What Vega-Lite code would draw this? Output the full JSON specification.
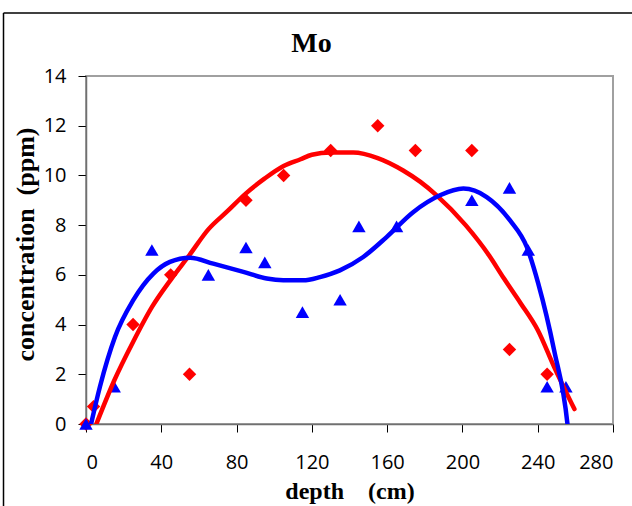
{
  "$schema": "https://vega.github.io/schema/vega-lite/v6.json",
  "autosize": {"type": "none"},
  "width": 527,
  "height": 348,
  "padding": {"left": 86, "top": 76, "right": 19, "bottom": 82},
  "background": "white",
  "title": {
    "text": "Mo",
    "font": "Liberation Serif",
    "fontSize": 28,
    "fontWeight": "bold",
    "color": "black",
    "anchor": "middle",
    "frame": "group",
    "baseline": "alphabetic",
    "offset": 0,
    "dy": 68,
    "dx": -38
  },
  "config": {
    "view": {"stroke": "#a0a0a0", "strokeWidth": 2},
    "axis": {
      "grid": false,
      "labelFont": "Open Sans",
      "labelFontSize": 20,
      "labelColor": "black",
      "tickColor": "black",
      "tickSize": 8,
      "tickWidth": 1,
      "domainColor": "#707070",
      "domainWidth": 1.5,
      "titleFont": "Liberation Serif",
      "titleFontWeight": "bold",
      "titleColor": "black"
    }
  },
  "datasets": {
    "frame": [
      {"x": -43.83, "x2": -43.83, "y": 16.53, "y2": -6},
      {"x": -43.83, "x2": 320, "y": 16.53, "y2": 16.53}
    ],
    "points": [
      {"series": "A", "depth": 0, "conc": 0},
      {"series": "A", "depth": 4, "conc": 0.7},
      {"series": "A", "depth": 25, "conc": 4},
      {"series": "A", "depth": 45, "conc": 6},
      {"series": "A", "depth": 55, "conc": 2},
      {"series": "A", "depth": 85, "conc": 9},
      {"series": "A", "depth": 105, "conc": 10},
      {"series": "A", "depth": 130, "conc": 11},
      {"series": "A", "depth": 155, "conc": 12},
      {"series": "A", "depth": 175, "conc": 11},
      {"series": "A", "depth": 205, "conc": 11},
      {"series": "A", "depth": 225, "conc": 3},
      {"series": "A", "depth": 245, "conc": 2},
      {"series": "B", "depth": 0, "conc": 0},
      {"series": "B", "depth": 15, "conc": 1.5},
      {"series": "B", "depth": 35, "conc": 7},
      {"series": "B", "depth": 65, "conc": 6},
      {"series": "B", "depth": 85, "conc": 7.1},
      {"series": "B", "depth": 95, "conc": 6.5},
      {"series": "B", "depth": 115, "conc": 4.5},
      {"series": "B", "depth": 135, "conc": 5},
      {"series": "B", "depth": 145, "conc": 7.95},
      {"series": "B", "depth": 165, "conc": 7.95},
      {"series": "B", "depth": 205, "conc": 9},
      {"series": "B", "depth": 225, "conc": 9.5},
      {"series": "B", "depth": 235, "conc": 7},
      {"series": "B", "depth": 245, "conc": 1.5},
      {"series": "B", "depth": 255, "conc": 1.5}
    ],
    "curves": [
      {"series": "A", "depth": 5.5, "conc": 0},
      {"series": "A", "depth": 15, "conc": 1.75},
      {"series": "A", "depth": 25, "conc": 3.3},
      {"series": "A", "depth": 35, "conc": 4.7},
      {"series": "A", "depth": 45, "conc": 5.8},
      {"series": "A", "depth": 55, "conc": 6.8},
      {"series": "A", "depth": 65, "conc": 7.83},
      {"series": "A", "depth": 75, "conc": 8.55},
      {"series": "A", "depth": 85, "conc": 9.28},
      {"series": "A", "depth": 95, "conc": 9.88},
      {"series": "A", "depth": 105, "conc": 10.38},
      {"series": "A", "depth": 114, "conc": 10.65},
      {"series": "A", "depth": 120, "conc": 10.83},
      {"series": "A", "depth": 130, "conc": 10.92},
      {"series": "A", "depth": 142, "conc": 10.92},
      {"series": "A", "depth": 155, "conc": 10.7},
      {"series": "A", "depth": 168.5, "conc": 10.2},
      {"series": "A", "depth": 177.5, "conc": 9.75},
      {"series": "A", "depth": 186.3, "conc": 9.2},
      {"series": "A", "depth": 201.7, "conc": 8.0},
      {"series": "A", "depth": 214, "conc": 6.8},
      {"series": "A", "depth": 222, "conc": 5.86},
      {"series": "A", "depth": 231, "conc": 4.85},
      {"series": "A", "depth": 240, "conc": 3.78},
      {"series": "A", "depth": 248.7, "conc": 2.3},
      {"series": "A", "depth": 259.5, "conc": 0.6},
      {"series": "B", "depth": 1.8, "conc": -0.3},
      {"series": "B", "depth": 7.4, "conc": 1.5},
      {"series": "B", "depth": 15.4, "conc": 3.5},
      {"series": "B", "depth": 25.1, "conc": 4.98},
      {"series": "B", "depth": 35.8, "conc": 6.05},
      {"series": "B", "depth": 44.6, "conc": 6.52},
      {"series": "B", "depth": 55.3, "conc": 6.69},
      {"series": "B", "depth": 67.6, "conc": 6.45},
      {"series": "B", "depth": 83.6, "conc": 6.12},
      {"series": "B", "depth": 96, "conc": 5.85},
      {"series": "B", "depth": 104.8, "conc": 5.78},
      {"series": "B", "depth": 115.4, "conc": 5.78},
      {"series": "B", "depth": 124.3, "conc": 5.91},
      {"series": "B", "depth": 134.9, "conc": 6.18},
      {"series": "B", "depth": 147.3, "conc": 6.72},
      {"series": "B", "depth": 159.7, "conc": 7.52},
      {"series": "B", "depth": 173.8, "conc": 8.52},
      {"series": "B", "depth": 188.1, "conc": 9.2},
      {"series": "B", "depth": 200.5, "conc": 9.47},
      {"series": "B", "depth": 212.9, "conc": 9.13},
      {"series": "B", "depth": 225.3, "conc": 8.19},
      {"series": "B", "depth": 234.2, "conc": 7.12},
      {"series": "B", "depth": 240.3, "conc": 5.65},
      {"series": "B", "depth": 248.7, "conc": 2.97},
      {"series": "B", "depth": 255.8, "conc": 0},
      {"series": "B", "depth": 256.6, "conc": -0.6}
    ]
  },
  "layer": [
    {
      "data": {"name": "frame"},
      "mark": {"type": "rule", "color": "black", "strokeWidth": 1.5, "clip": false},
      "encoding": {
        "x": {"field": "x", "type": "quantitative", "scale": {"domain": [0, 280], "nice": false, "zero": false}},
        "x2": {"field": "x2"},
        "y": {"field": "y", "type": "quantitative", "scale": {"domain": [0, 14], "nice": false, "zero": false}},
        "y2": {"field": "y2"}
      }
    },
    {
      "data": {"name": "points"},
      "mark": {"type": "point", "filled": true, "opacity": 1, "size": 180, "strokeWidth": 0},
      "encoding": {
        "x": {
          "field": "depth", "type": "quantitative",
          "scale": {"domain": [0, 280], "nice": false, "zero": false},
          "axis": {
            "values": [0, 40, 80, 120, 160, 200, 240, 280],
            "labelPadding": 20,
            "title": "depth\u00a0\u00a0\u00a0\u00a0(cm)",
            "titleFontSize": 24,
            "titleBaseline": "alphabetic",
            "titleY": 74
          }
        },
        "y": {
          "field": "conc", "type": "quantitative",
          "scale": {"domain": [0, 14], "nice": false, "zero": false},
          "axis": {
            "values": [0, 2, 4, 6, 8, 10, 12, 14],
            "labelPadding": 12,
            "title": "concentration\u00a0\u00a0(ppm)",
            "titleFontSize": 26,
            "titleAngle": -90,
            "titleBaseline": "alphabetic",
            "titleAlign": "center",
            "titleX": -53,
            "titleY": 168
          }
        },
        "color": {"field": "series", "type": "nominal", "scale": {"domain": ["A", "B"], "range": ["#FF0000", "#0000FF"]}, "legend": null},
        "shape": {"field": "series", "type": "nominal", "scale": {"domain": ["A", "B"], "range": ["diamond", "triangle-up"]}, "legend": null}
      }
    },
    {
      "data": {"name": "curves"},
      "mark": {"type": "line", "strokeWidth": 4.5, "interpolate": "monotone", "clip": true, "strokeCap": "round"},
      "encoding": {
        "x": {"field": "depth", "type": "quantitative", "scale": {"domain": [0, 280], "nice": false, "zero": false}},
        "y": {"field": "conc", "type": "quantitative", "scale": {"domain": [0, 14], "nice": false, "zero": false}},
        "color": {"field": "series", "type": "nominal", "scale": {"domain": ["A", "B"], "range": ["#FF0000", "#0000FF"]}, "legend": null},
        "detail": {"field": "series"}
      }
    }
  ]
}
